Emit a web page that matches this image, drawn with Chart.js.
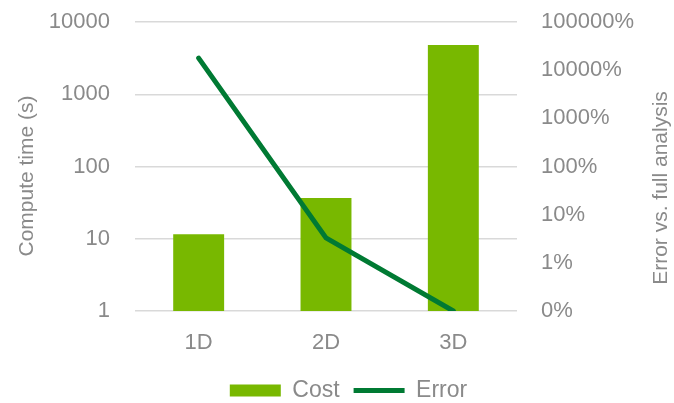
<!DOCTYPE html>
<html>
<head>
<meta charset="utf-8">
<script src="https://cdn.jsdelivr.net/npm/chart.js@4/dist/chart.umd.min.js"></script>
<style>
  html, body { margin: 0; padding: 0; background: #fff; }
  #wrap { width: 674px; height: 403px; }
</style>
</head>
<body>
<div id="wrap"><canvas id="costChart"></canvas></div>
<script>
const categories = ["1D", "2D", "3D"];
const costSeconds = [11.5, 36.5, 4800];
const errorRatio = [178, 0.033, 0.001];
const leftTicks = [1, 10, 100, 1000, 10000];
const rightTicks = [0.001, 0.01, 0.1, 1, 10, 100, 1000];

const gray = "#8a8a8a";
const family = "'Liberation Sans', Arial, sans-serif";
const tickFont = { family: family, size: 22 };
const legendFont = { family: family, size: 23 };

// axis titles are drawn by hand so both read bottom-to-top like the original
const axisTitles = {
    id: "axisTitles",
    afterDraw(chart) {
        const ctx = chart.ctx;
        const titles = [["Compute time (s)", 27, 176], ["Error vs. full analysis", 661, 188]];
        ctx.save();
        ctx.fillStyle = gray;
        ctx.font = "21px " + family;
        ctx.textAlign = "center";
        ctx.textBaseline = "middle";
        titles.forEach(([text, x, y]) => {
            ctx.save();
            ctx.translate(x, y);
            ctx.rotate(-Math.PI / 2);
            ctx.fillText(text, 0, 0);
            ctx.restore();
        });
        ctx.restore();
    }
};

// the legend sits a little right of the canvas centre in the original
const shiftLegend = {
    id: "shiftLegend",
    afterLayout(chart) {
        chart.legend.left += 23;
    }
};

// fixed axis widths, and no extra top/bottom padding from the tick labels
function fixWidth(w) {
    return axis => {
        axis.width = w;
        axis.paddingTop = 0;
        axis.paddingBottom = 0;
    };
}

const ctx = document.getElementById("costChart");

new Chart(ctx, {
    type: "bar",
    data: {
        labels: categories,
        datasets: [{
            label: "Cost",
            data: costSeconds,
            backgroundColor: "#78b800",
            borderWidth: 0,
            barPercentage: 0.4,
            categoryPercentage: 1,
            pointStyle: "rect",
            yAxisID: "y",
            order: 1
        }, {
            type: "line",
            label: "Error",
            data: errorRatio,
            borderColor: "#007a33",
            backgroundColor: "#007a33",
            borderWidth: 5,
            borderCapStyle: "round",
            pointRadius: 0,
            pointStyle: "line",
            tension: 0,
            yAxisID: "y2",
            order: 0
        }]
    },
    options: {
        responsive: true,
        maintainAspectRatio: false,
        animation: false,
        layout: { padding: { top: 22, left: 0, right: 0, bottom: -9 } },
        scales: {
            x: {
                grid: { display: false },
                border: { display: false },
                ticks: { color: gray, font: tickFont, padding: 11 },
                afterFit: axis => { axis.height = 54; }
            },
            y: {
                type: "logarithmic",
                position: "left",
                min: 1,
                max: 10000,
                afterBuildTicks: axis => { axis.ticks = leftTicks.map(v => ({ value: v })); },
                afterFit: fixWidth(135),
                grid: { color: "#d9d9d9", lineWidth: 1.5, drawTicks: false },
                border: { display: false },
                ticks: { color: gray, font: tickFont, padding: 25, callback: v => String(v) }
            },
            y2: {
                type: "logarithmic",
                position: "right",
                min: 0.001,
                max: 1000,
                afterBuildTicks: axis => { axis.ticks = rightTicks.map(v => ({ value: v })); },
                afterFit: fixWidth(157),
                grid: { display: false, drawTicks: false },
                border: { display: false },
                ticks: { color: gray, font: tickFont, padding: 24, callback: v => Math.round(v * 100) + "%" }
            }
        },
        plugins: {
            legend: {
                position: "bottom",
                labels: {
                    color: gray,
                    font: legendFont,
                    usePointStyle: true,
                    pointStyleWidth: 51,
                    boxHeight: 12,
                    padding: 14,
                    sort: (a, b) => a.datasetIndex - b.datasetIndex
                }
            },
            tooltip: { enabled: false }
        }
    },
    plugins: [axisTitles, shiftLegend]
});
</script>
</body>
</html>
